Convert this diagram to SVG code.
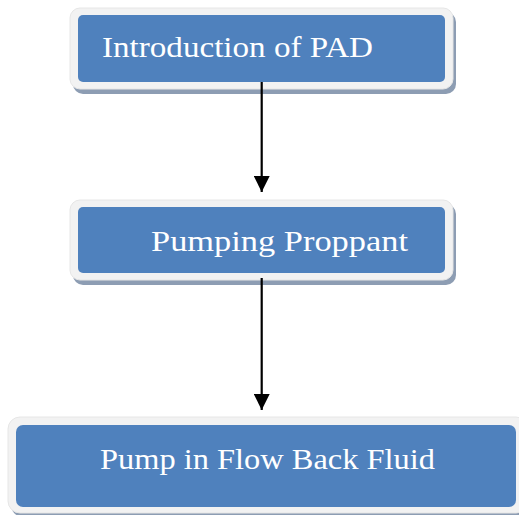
<svg xmlns="http://www.w3.org/2000/svg" width="519" height="515" viewBox="0 0 519 515">
<style>
.shadow{fill:#8d9db3}
.frame{fill:#f2f2f2;stroke:#e6e6e6;stroke-width:1}
.body{fill:#4f81bd}
.label{font-family:"Liberation Serif","DejaVu Serif",serif;font-size:30px;fill:#ffffff}
.conn{stroke:#000000;stroke-width:2.2;fill:none}
</style>
<defs>
<marker id="arrow" markerUnits="userSpaceOnUse" markerWidth="16" markerHeight="16" refX="16" refY="8" orient="auto">
<path d="M0,0 L16,8 L0,16 Z" fill="#000000"/>
</marker>
</defs>
<rect width="519" height="515" fill="#ffffff"/>
<g id="node-intro">
<rect class="shadow" x="73" y="12" width="383" height="82" rx="10"/>
<rect class="frame" x="70" y="8" width="383" height="81" rx="10"/>
<rect class="body" x="78" y="15" width="367" height="67" rx="5"/>
<text class="label" x="102" y="57" textLength="271" lengthAdjust="spacingAndGlyphs">Introduction of PAD</text>
</g>
<g id="node-pumping">
<rect class="shadow" x="73" y="204" width="383" height="81" rx="10"/>
<rect class="frame" x="70" y="200" width="383" height="80" rx="10"/>
<rect class="body" x="78" y="207" width="367" height="66" rx="5"/>
<text class="label" x="151" y="251" textLength="257" lengthAdjust="spacingAndGlyphs">Pumping Proppant</text>
</g>
<g id="node-flowback">
<rect class="shadow" x="11" y="421" width="520" height="96" rx="12"/>
<rect class="frame" x="8" y="417" width="520" height="96" rx="12"/>
<rect class="body" x="16" y="425" width="500" height="82" rx="7"/>
<text class="label" x="100" y="469" textLength="335" lengthAdjust="spacingAndGlyphs">Pump in Flow Back Fluid</text>
</g>
<g id="connectors">
<line class="conn" x1="261.7" y1="82" x2="261.7" y2="192" marker-end="url(#arrow)"/>
<line class="conn" x1="261.7" y1="278" x2="261.7" y2="410" marker-end="url(#arrow)"/>
</g>
</svg>
